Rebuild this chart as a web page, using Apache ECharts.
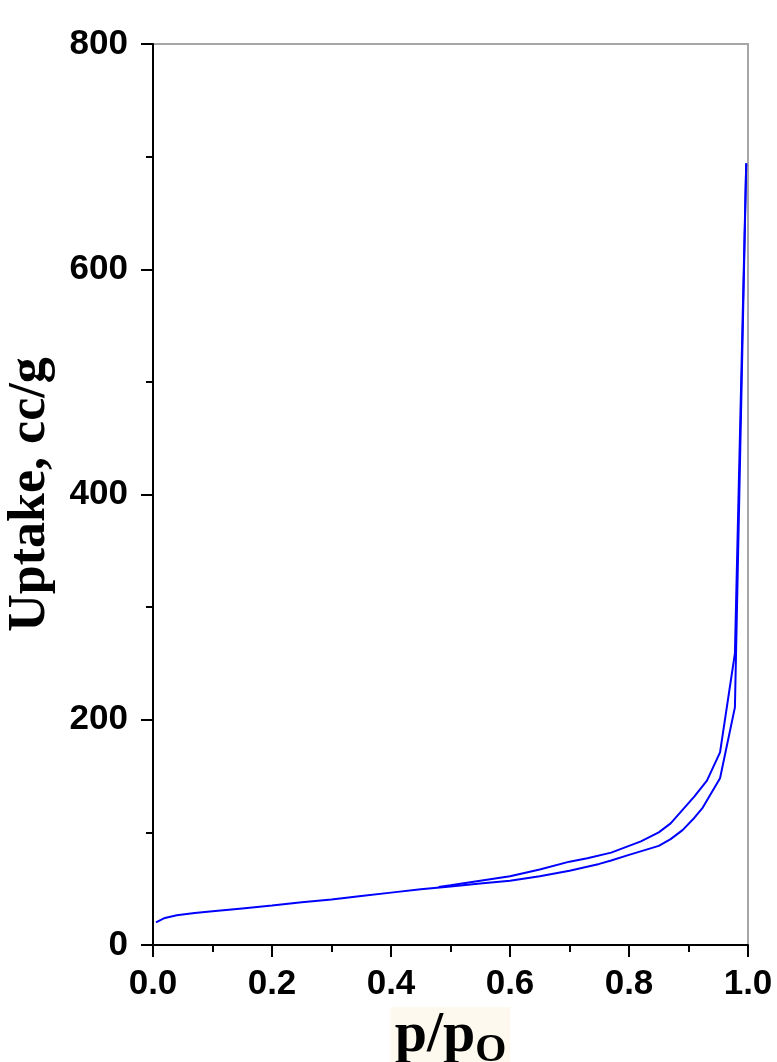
<!DOCTYPE html>
<html>
<head>
<meta charset="utf-8">
<script src="https://cdn.jsdelivr.net/npm/echarts@6/dist/echarts.min.js"></script>
<style>html,body{margin:0;padding:0;background:#fff;}#chart{width:777px;height:1062px;}</style>
</head>
<body>
<div id="chart"></div>
<script>
// Adsorption branch (lower)
const adsP = [0.005, 0.02, 0.04, 0.07, 0.10, 0.15, 0.20, 0.25, 0.30, 0.35, 0.40, 0.45, 0.50, 0.55, 0.60, 0.65, 0.70, 0.75, 0.77, 0.80, 0.85, 0.87, 0.89, 0.91, 0.924, 0.953, 0.978, 0.997];
const adsV = [20, 24, 26.5, 28.5, 30, 32.5, 35, 38, 40.5, 43.5, 46.5, 49.5, 52, 54.5, 57, 61, 66, 72, 75, 80, 88, 94, 102, 113, 122, 148, 211, 694];
// Desorption branch (upper)
const desP = [0.997, 0.978, 0.953, 0.931, 0.91, 0.89, 0.87, 0.85, 0.82, 0.80, 0.77, 0.73, 0.70, 0.65, 0.60, 0.55, 0.50, 0.48];
const desV = [694, 259, 171, 146, 132, 120, 108, 100, 92, 88, 82, 77, 74, 67, 61, 57, 53, 51.5];
const xTicks = ['0.0', '0.2', '0.4', '0.6', '0.8', '1.0'];

const pair = (xs, ys) => xs.map((x, i) => [x, ys[i]]);

const chart = echarts.init(document.getElementById('chart'), null, {renderer: 'canvas'});
chart.setOption({
  backgroundColor: '#ffffff',
  animation: false,
  grid: {left: 153, right: 29, top: 44, bottom: 117, outerBoundsMode: 'none', containLabel: false,
    show: true, borderColor: '#a6a6a6', borderWidth: 2, backgroundColor: 'transparent'},
  xAxis: {
    type: 'value', min: 0, max: 1, interval: 0.2,
    name: '{a|p/p}{b|O}', nameLocation: 'middle', nameGap: 54,
    nameTextStyle: {
      backgroundColor: '#fdf9ee', padding: [2, 4, 2, 4],
      rich: {
        a: {fontFamily: 'Liberation Serif', fontWeight: 'bold', fontSize: 58, color: '#000', lineHeight: 56, verticalAlign: 'bottom'},
        b: {fontFamily: 'Liberation Serif', fontWeight: 'bold', fontSize: 40, color: '#000', lineHeight: 56, verticalAlign: 'bottom', padding: [0, 0, -6, 0]}
      }
    },
    axisLine: {show: true, onZero: false, lineStyle: {color: '#000', width: 2}},
    axisTick: {show: true, inside: false, length: 12, lineStyle: {color: '#000', width: 2}},
    minorTick: {show: true, splitNumber: 2, length: 7, lineStyle: {color: '#000', width: 2}},
    splitLine: {show: false},
    axisLabel: {fontFamily: 'Liberation Sans', fontWeight: 'bold', fontSize: 35, color: '#000', margin: 22,
      formatter: v => xTicks[Math.round(v / 0.2)]}
  },
  yAxis: {
    type: 'value', min: 0, max: 800, interval: 200,
    name: 'Uptake, cc/g', nameLocation: 'middle', nameGap: 96,
    nameTextStyle: {fontFamily: 'Liberation Serif', fontWeight: 'bold', fontSize: 52, color: '#000'},
    axisLine: {show: true, onZero: false, lineStyle: {color: '#000', width: 2}},
    axisTick: {show: true, inside: false, length: 12, lineStyle: {color: '#000', width: 2}},
    minorTick: {show: true, splitNumber: 2, length: 7, lineStyle: {color: '#000', width: 2}},
    splitLine: {show: false},
    axisLabel: {fontFamily: 'Liberation Sans', fontWeight: 'bold', fontSize: 35, color: '#000', margin: 25}
  },
  series: [
    {type: 'line', name: 'adsorption', data: pair(adsP, adsV), showSymbol: false, symbol: 'none', smooth: false,
     lineStyle: {color: '#0000ff', width: 2}},
    {type: 'line', name: 'desorption', data: pair(desP, desV), showSymbol: false, symbol: 'none', smooth: false,
     lineStyle: {color: '#0000ff', width: 2}}
  ]
});
</script>
</body>
</html>
